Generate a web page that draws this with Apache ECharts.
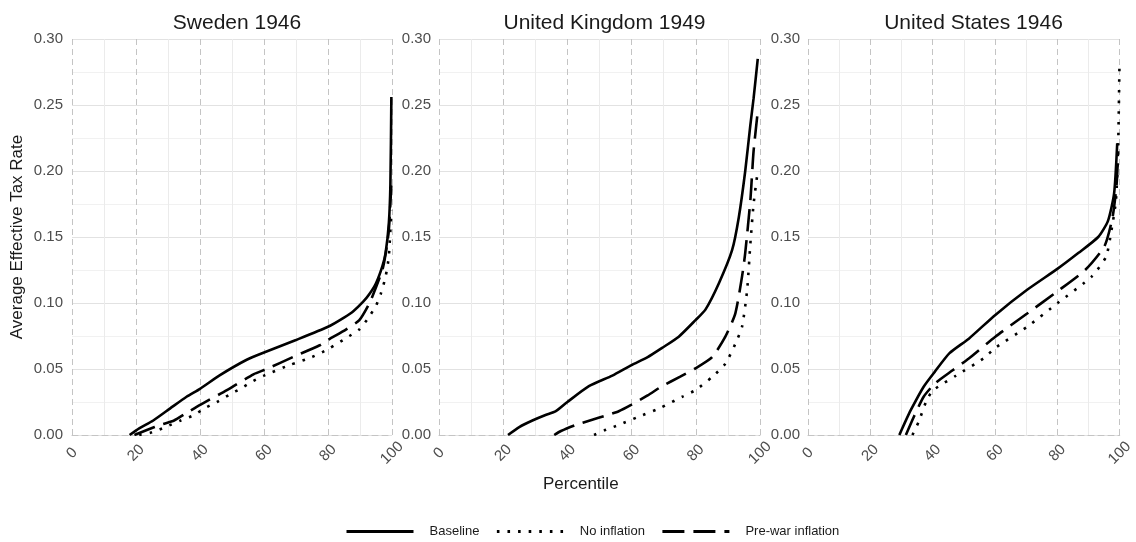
<!DOCTYPE html>
<html>
<head>
    <meta charset="utf-8"/>
    <title>Average Effective Tax Rate</title>
    <script src="https://cdn.jsdelivr.net/npm/echarts@6/dist/echarts.min.js"></script>
    <style>
        html,body{margin:0;padding:0;background:#ffffff;}
        #main{width:1136px;height:542px;}
    </style>
</head>
<body>
<div id="main"></div>
<script>
var panelTitles = ["Sweden 1946", "United Kingdom 1949", "United States 1946"];
var seriesNames = ["Baseline", "No inflation", "Pre-war inflation"];
var xTicks = [0, 20, 40, 60, 80, 100];

// [percentile, rate]
var sweBaseline = [[18,0],[21,0.005],[25.4,0.011],[30.6,0.020],[35.8,0.029],[40,0.035],[46,0.045],[54.6,0.057],[60,0.0625],[70,0.072],[80,0.082],[85,0.089],[88,0.094],[91,0.101],[93,0.107],[95,0.115],[97,0.128],[98,0.138],[99,0.160],[99.5,0.19],[99.8,0.256]];
var sweNoInfl = [[21,0],[25,0.002],[29.5,0.0063],[34,0.011],[38,0.015],[42,0.021],[45.3,0.025],[49.5,0.031],[52.6,0.035],[56.7,0.041],[60,0.045],[68,0.053],[75,0.059],[80,0.065],[86.7,0.075],[89.8,0.080],[92.4,0.088],[95,0.098],[96.5,0.107],[98,0.120],[99,0.135],[99.8,0.17]];
var swePreWar = [[19.5,0],[23.6,0.004],[28,0.008],[31.9,0.011],[36,0.017],[40.2,0.023],[48.4,0.034],[56.7,0.046],[60.8,0.050],[69,0.059],[77.4,0.068],[80,0.072],[85.7,0.080],[89.8,0.087],[93,0.100],[95,0.112],[97,0.125],[98,0.137],[99,0.155],[99.8,0.19]];

var ukBaseline = [[21.5,0],[25,0.006],[29.1,0.011],[33,0.015],[36.4,0.018],[40,0.025],[46.7,0.037],[54,0.045],[60,0.053],[65,0.059],[69.5,0.066],[74.7,0.0745],[79.9,0.087],[83,0.095],[87.2,0.115],[91.3,0.140],[93.4,0.165],[95.4,0.200],[97,0.235],[98,0.255],[99.3,0.285]];
var ukNoInfl = [[48.3,0],[52,0.004],[56,0.0076],[62.3,0.014],[68.5,0.020],[75.8,0.029],[79.9,0.034],[85.1,0.044],[89.2,0.054],[92.3,0.069],[94.4,0.082],[96,0.110],[97,0.145],[98,0.175],[99.3,0.20]];
var ukPreWar = [[35.9,0],[38,0.003],[42.6,0.0076],[47,0.011],[52.4,0.015],[56,0.018],[60,0.023],[65,0.030],[69.5,0.037],[75,0.044],[79.9,0.0505],[85.1,0.059],[89.2,0.0745],[92.3,0.092],[94.4,0.12],[95.4,0.138],[97,0.178],[98,0.215],[99.3,0.245]];

var usBaseline = [[29.3,0],[31,0.009],[33,0.019],[37.1,0.0366],[40.7,0.048],[45.4,0.062],[51.6,0.073],[60.1,0.091],[70.3,0.110],[80.1,0.126],[86.8,0.138],[93.1,0.150],[96.2,0.162],[98.2,0.183],[99.2,0.221]];
var usNoInfl = [[33.5,0],[35.5,0.010],[38.1,0.0265],[40.2,0.034],[47.5,0.045],[56.3,0.058],[60.1,0.066],[70.3,0.082],[80.1,0.100],[91,0.120],[95.6,0.135],[97.2,0.153],[98.8,0.178],[99.5,0.22],[99.9,0.278]];
var usPreWar = [[31.4,0],[34,0.014],[37.1,0.029],[40.7,0.039],[46.4,0.049],[51.6,0.058],[60.1,0.0745],[70.3,0.092],[80.1,0.109],[88.9,0.125],[95.1,0.143],[97.7,0.165],[99,0.19],[99.5,0.215]];

var panelData = [
    [sweBaseline, sweNoInfl, swePreWar],
    [ukBaseline, ukNoInfl, ukPreWar],
    [usBaseline, usNoInfl, usPreWar]
];

var font = "'Liberation Sans', Arial, sans-serif";
var lineTypes = ["solid", [2.6, 8], [22, 9]];
var panelLeft = [72, 439, 808];
var panelWidth = [320, 321, 321];

var grids = [], xAxes = [], yAxes = [], titles = [], series = [];

for (var i = 0; i < 3; i++) {
    grids.push({left: panelLeft[i], top: 39, width: panelWidth[i], height: 396});
    titles.push({
        text: panelTitles[i],
        left: panelLeft[i] + panelWidth[i] / 2,
        top: 8,
        textAlign: "center",
        textStyle: {fontFamily: font, fontSize: 21, fontWeight: "normal", color: "#1a1a1a"}
    });
    xAxes.push({
        gridIndex: i, type: "value", min: 0, max: 100, interval: 20,
        axisLine: {show: true, lineStyle: {color: "#c4c4c4", type: [6, 4]}},
        axisTick: {show: false},
        axisLabel: {
            rotate: 45, align: "center", verticalAlign: "middle", margin: 18,
            color: "#4d4d4d", fontSize: 15, fontFamily: font,
            formatter: function (v) { return xTicks.indexOf(v) >= 0 ? String(v) : ""; }
        },
        splitLine: {show: true, lineStyle: {color: "#c4c4c4", type: [6, 4]}},
        minorTick: {show: false, splitNumber: 2},
        minorSplitLine: {show: true, lineStyle: {color: "#ebebeb"}}
    });
    yAxes.push({
        gridIndex: i, type: "value", min: 0, max: 0.3, interval: 0.05,
        name: i === 0 ? "Average Effective Tax Rate" : "",
        nameLocation: "middle", nameGap: 46,
        nameTextStyle: {fontFamily: font, fontSize: 17, color: "#1a1a1a"},
        axisLine: {show: false},
        axisTick: {show: false},
        axisLabel: {
            color: "#4d4d4d", fontSize: 15, fontFamily: font, margin: i === 0 ? 9 : 8,
            formatter: function (v) { return v.toFixed(2); }
        },
        splitLine: {show: true, lineStyle: {color: "#e2e2e2"}},
        minorTick: {show: false, splitNumber: 2},
        minorSplitLine: {show: true, lineStyle: {color: "#f1f1f1"}}
    });
    for (var s = 0; s < 3; s++) {
        series.push({
            name: seriesNames[s],
            type: "line",
            xAxisIndex: i, yAxisIndex: i,
            data: panelData[i][s],
            symbol: "none",
            smooth: 0.2,
            z: 5,
            itemStyle: {color: "#000000"},
            lineStyle: {color: "#000000", width: 2.6, type: lineTypes[s], cap: "butt"}
        });
    }
}

var chart = echarts.init(document.getElementById("main"));
chart.setOption({
    backgroundColor: "#ffffff",
    animation: false,
    title: titles,
    grid: grids,
    xAxis: xAxes,
    yAxis: yAxes,
    legend: {
        data: seriesNames,
        left: 345, top: 525, padding: 0,
        itemWidth: 67, itemHeight: 14, itemGap: 16,
        itemStyle: {opacity: 0},
        lineStyle: {width: 3},
        textStyle: {fontFamily: font, fontSize: 13, color: "#1a1a1a", padding: [0, 0, 0, 11]}
    },
    graphic: [{
        type: "text", left: 543, top: 476,
        style: {text: "Percentile", fontFamily: font, fontSize: 17, fill: "#1a1a1a"}
    }],
    series: series
});
</script>
</body>
</html>
